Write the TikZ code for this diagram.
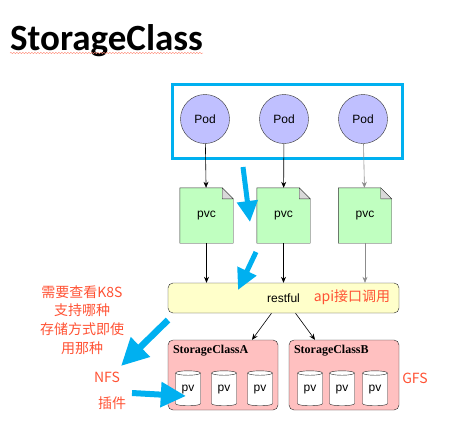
\documentclass[tikz,border=0pt]{standalone}
\usepackage{fontspec}
\setmainfont{Liberation Sans}
\newfontfamily\titlefont{Carlito}
\newfontfamily\serifbold{Liberation Serif}
\newfontfamily\cjk{Noto Sans CJK SC}
\usetikzlibrary{shapes.geometric, arrows.meta, positioning, decorations.pathmorphing}
\definecolor{HintCyan}{RGB}{0, 176, 240}
\definecolor{PodBlue}{RGB}{192, 192, 255}
\definecolor{PvcGreen}{RGB}{192, 255, 192}
\definecolor{RestYellow}{RGB}{255, 255, 202}
\definecolor{ClassPink}{RGB}{255, 192, 192}
\definecolor{NoteRed}{RGB}{255, 82, 52}
\definecolor{LinkGrey}{RGB}{140, 140, 140}

\begin{document}
\begin{tikzpicture}[
    x=1pt, y=-1pt,
    >={Stealth[length=6pt,width=5pt]},
    % Define styles for the elements
    pod/.style={
        circle,
        draw=black!80,
        fill=PodBlue,
        minimum size=49pt,
        font=\fontsize{12}{14}\selectfont
    },
    pvc/.style={
        rectangle,
        minimum width=53pt,
        minimum height=55pt
    },
    bus/.style={
        rectangle,
        rounded corners=5pt,
        draw=black!85,
        fill=RestYellow,
        minimum width=231pt,
        minimum height=30pt,
        font=\fontsize{12}{14}\selectfont
    },
    class box/.style={
        rectangle,
        rounded corners=5pt,
        draw=black!85,
        fill=ClassPink,
        minimum width=110pt,
        minimum height=70pt
    },
    class label/.style={
        anchor=north west,
        inner sep=0pt,
        font=\serifbold\bfseries\fontsize{12}{14}\selectfont
    },
    volume/.style={
        cylinder,
        shape border rotate=90,
        aspect=0.35,
        draw=black!85,
        fill=white,
        minimum width=25pt,
        minimum height=35pt,
        inner sep=0pt,
        font=\fontsize{12}{14}\selectfont
    },
    note/.style={
        text=NoteRed,
        font=\cjk\fontsize{14}{18.7}\selectfont,
        align=center
    },
    link/.style={
        ->,
        line width=0.6pt,
        color=#1
    },
    link/.default=black,
    hint/.style={
        draw=HintCyan,
        line width=#1,
        -{Triangle[width=4*#1,length=4.2*#1]}
    }
]
    \useasboundingbox (0,0) rectangle (460,421);

    % --- Title ---
    \node[anchor=base west, inner sep=0pt, font=\titlefont\bfseries\fontsize{37}{42}\selectfont] (title) at (10,50) {StorageClass};
    \draw[NoteRed!70, line width=0.4pt, decorate, decoration={snake, amplitude=0.7pt, segment length=3pt}]
        ([yshift=-3pt]title.base west) -- ([yshift=-3pt]title.base east);

    % --- Pods ---
    \draw[HintCyan, line width=3pt] (172,84) rectangle (402,158);
    \node[pod] (podA) at (205,119) {Pod};
    \node[pod] (podB) at (284,119) {Pod};
    \node[pod] (podC) at (363,119) {Pod};

    % --- Claims ---
    \node[pvc] (pvcA) at (206.5,215.5) {};
    \node[pvc] (pvcB) at (283.5,215.5) {};
    \node[pvc] (pvcC) at (365,215.5) {};
    \foreach \n in {pvcA,pvcB,pvcC} {
        \draw[black!80, fill=PvcGreen]
            (\n.north west) -- ([xshift=-11pt]\n.north east) -- ([yshift=-11pt]\n.north east)
            -- (\n.south east) -- (\n.south west) -- cycle;
        \draw[black!80, fill=white!85!black]
            ([xshift=-11pt]\n.north east) -- ([xshift=-11pt,yshift=-11pt]\n.north east)
            -- ([yshift=-11pt]\n.north east) -- cycle;
        \node[font=\fontsize{12}{14}\selectfont] at (\n) {pvc};
    }

    % --- restful interface ---
    \node[bus] (rest) at (283.5,298) {restful};
    \node[note, font=\cjk\fontsize{14}{16}\selectfont] (api) at (352,297) {api接口调用};

    % --- Storage classes ---
    \node[class box] (scA) at (223,375) {};
    \node[class box] (scB) at (344,375) {};
    \node[class label] at ([xshift=5pt,yshift=-5pt]scA.north west) {StorageClassA};
    \node[class label] at ([xshift=5pt,yshift=-5pt]scB.north west) {StorageClassB};
    \node[volume] (pvA1) at (188,389.5) {pv};
    \node[volume] (pvA2) at (224,389.5) {pv};
    \node[volume] (pvA3) at (260,389.5) {pv};
    \node[volume] (pvB1) at (310,389.5) {pv};
    \node[volume] (pvB2) at (342,389.5) {pv};
    \node[volume] (pvB3) at (375,389.5) {pv};

    % --- Connections ---
    \draw[link] (podA) -- (pvcA);
    \draw[link] (podB) -- (pvcB);
    \draw[link=LinkGrey] (podC) -- (pvcC);
    \draw[link] (pvcA.south) -- (pvcA.south |- rest.north);
    \draw[link] (pvcB.south) -- (pvcB.south |- rest.north);
    \draw[link=LinkGrey] (pvcC.south) -- (pvcC.south |- rest.north);
    \draw[link] ([xshift=-12pt]rest.south) -- ([xshift=29pt]scA.north);
    \draw[link] ([xshift=12pt]rest.south) -- ([xshift=-29pt]scB.north);

    % --- Notes ---
    \node[note] (ask) at (82,320) {需要查看K8S\\支持哪种\\存储方式即使\\用那种};
    \node[note] (nfs) at (107,377) {NFS};
    \node[note] (plugin) at (112,403) {插件};
    \node[note] (gfs) at (415,378) {GFS};

    % --- Hint arrows ---
    \coordinate (h1s) at (243,167);  \coordinate (h1e) at (250,222);
    \coordinate (h2s) at (256,252);  \coordinate (h2e) at (238,290);
    \coordinate (h3s) at (168,320);  \coordinate (h3e) at (121,366);
    \coordinate (h4s) at (132,393);  \coordinate (h4e) at (186,396);
    \draw[hint=5pt] (h1s) -- (h1e);
    \draw[hint=5pt] (h2s) -- (h2e);
    \draw[hint=6.5pt] (h3s) -- (h3e);
    \draw[hint=6pt] (h4s) -- (h4e);

\end{tikzpicture}
\end{document}
